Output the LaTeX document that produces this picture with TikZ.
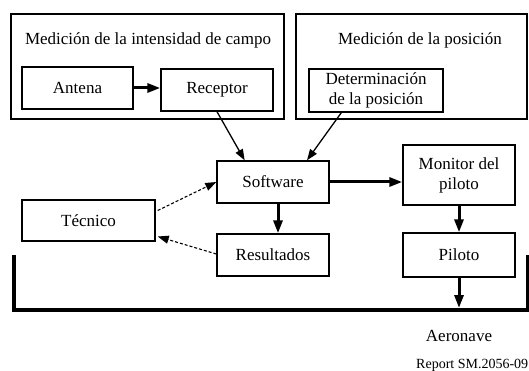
\documentclass[tikz,border=0pt]{standalone}
\usepackage{fontspec}
\setmainfont{Liberation Serif}
\usetikzlibrary{calc,arrows.meta}

\begin{document}
\begin{tikzpicture}
        [x=1pt,y=-1pt]
        \tikzstyle{every node}=[font=\fontsize{17}{20}\selectfont, inner sep=0pt]
        \tikzstyle{block}=[rectangle, draw, line width=1.4pt, align=center]
        \tikzstyle{bigarrow}=[line width=3pt, -{Triangle[length=13pt,width=9pt]}]
        \tikzstyle{smallarrow}=[line width=1.3pt, -{Triangle[length=11pt,width=8pt]}]
        \tikzstyle{dasharrow}=[line width=1.1pt, densely dashed, -{Triangle[length=11pt,width=8pt]}]
        \useasboundingbox (0,0) rectangle (529,371);
        %-----grupos
         \node[block, minimum width=273pt, minimum height=105pt] (intensidad) at (147.5,66.5) {};
         \node[block, minimum width=231pt, minimum height=105pt] (posicion) at (411.5,66.5) {};
         \node (tintensidad) at (148,40) {Medición de la intensidad de campo};
         \node (tposicion) at (420,40) {Medición de la posición};
        %-----bloques
         \node[block, minimum width=111pt, minimum height=42pt] (antena) at (77.5,88) {Antena};
         \node[block, minimum width=112pt, minimum height=42pt] (receptor) at (217,90) {Receptor};
         \node[block, minimum width=134pt, minimum height=43pt] (determ) at (376,90.5) {Determinación\\de la posición};
         \node[block, minimum width=112pt, minimum height=42pt] (software) at (273,182) {Software};
         \node[block, minimum width=112pt, minimum height=60pt] (monitor) at (459,175) {Monitor del\\piloto};
         \node[block, minimum width=133pt, minimum height=41pt] (tecnico) at (88.5,220.5) {Técnico};
         \node[block, minimum width=112pt, minimum height=42pt] (resultados) at (273,255) {Resultados};
         \node[block, minimum width=112pt, minimum height=44pt] (piloto) at (459,255) {Piloto};
        %-----aeronave
         \coordinate (hullL) at (14,255);
         \coordinate (hullR) at (528,255);
         \coordinate (hull) at (459,308);
         \draw[line width=4pt] (hullL) -- (hullL |- 0,310) -- (hullR |- 0,310) -- (hullR);
         \node (aeronave) at (459,336) {Aeronave};
         \node[anchor=west, font=\fontsize{14}{16}\selectfont] (report) at (416,365) {Report SM.2056-09};

          \draw[bigarrow] (antena.east) -- (antena.east -| receptor.west);
          \draw[bigarrow] (software.east) -- (software.east -| monitor.west);
          \draw[bigarrow] ($(software.south)+(5,0)$) -- ($(resultados.north)+(5,0)$);
          \draw[bigarrow] (monitor) -- (piloto);
          \draw[bigarrow] (piloto.south) -- (hull);

          \draw[smallarrow] (receptor.south) -- ($(software.north west)!0.25!(software.north east)$);
          \draw[smallarrow] ($(determ.south west)+(33,0)$) -- ($(software.north west)!0.8!(software.north east)$);

          \draw[dasharrow] ($(tecnico.east)+(2,-10)$) -- (software.west);
          \draw[dasharrow] ($(resultados.west)+(0,-1)$) -- ($(tecnico.east)+(2,16)$);

        \end{tikzpicture}
\end{document}
